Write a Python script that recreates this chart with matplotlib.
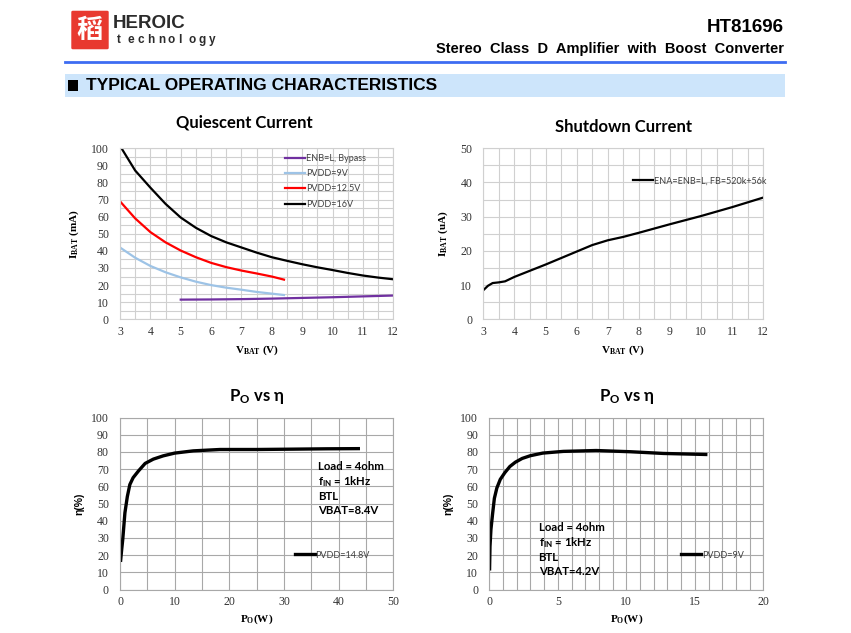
import numpy as np
import matplotlib.pyplot as plt
from matplotlib.patches import Rectangle, FancyBboxPatch
from matplotlib.lines import Line2D

plt.rcParams['mathtext.fontset'] = 'custom'
plt.rcParams['mathtext.rm'] = 'Liberation Serif'
plt.rcParams['mathtext.bf'] = 'Liberation Serif:bold'
plt.rcParams['mathtext.it'] = 'Liberation Serif:italic'
plt.rcParams['mathtext.sf'] = 'Lato:bold'

# quiescent current (mA) vs VBAT (V)
vbat_bypass = [5, 6, 7, 8, 9, 10, 11, 12]
iq_bypass = [11.5, 11.6, 11.8, 12.1, 12.5, 12.9, 13.4, 13.9]
vbat_9v = [3, 3.5, 4, 4.5, 5, 5.5, 6, 6.5, 7, 7.5, 8, 8.4]
iq_9v = [42, 36, 31.2, 27.5, 24.5, 22, 20, 18.5, 17.3, 16, 15, 14.2]
vbat_12v5 = [3, 3.5, 4, 4.5, 5, 5.5, 6, 6.5, 7, 7.5, 8, 8.4]
iq_12v5 = [69, 59, 51, 45, 40.2, 36.3, 33, 30.5, 28.5, 26.8, 25, 23.2]
vbat_16v = [3.05, 3.5, 4, 4.5, 5, 5.5, 6, 6.5, 7, 7.5, 8, 8.5, 9, 9.5, 10, 10.5, 11, 11.5, 12]
iq_16v = [100, 87, 77, 67.5, 59.5, 53.5, 48.7, 45, 42, 39, 36.3, 34.2, 32.2, 30.4, 28.8, 27.1, 25.6, 24.4, 23.4]

# shutdown current (uA) vs VBAT (V)
vbat_sd = [3, 3.15, 3.3, 3.5, 3.7, 4, 4.5, 5, 5.5, 6, 6.5, 7, 7.5, 8, 9, 10, 11, 12]
isd = [8.5, 9.8, 10.6, 10.8, 11.1, 12.4, 14.2, 16, 17.9, 19.8, 21.7, 23.1, 24.1, 25.3, 27.8, 30.2, 32.8, 35.6]

# efficiency (%) vs output power (W)
po_148 = [0.12, 0.3, 0.5, 0.9, 1.34, 1.8, 2.4, 3.4, 4.6, 6.1, 7.9, 10, 13.4, 18.3, 25, 31.7, 37.8, 43.6]
eff_148 = [17, 23, 29, 44.6, 54, 61, 65, 69, 73.3, 75.8, 77.7, 79.3, 80.6, 81.4, 81.4, 81.6, 81.8, 81.9]
po_9 = [0.02, 0.05, 0.12, 0.24, 0.37, 0.55, 0.8, 1.14, 1.5, 1.9, 2.4, 3, 3.9, 5.4, 7.8, 10.3, 12.7, 15.8]
eff_9 = [12, 25, 35, 44, 53, 59, 64, 68, 71.5, 74, 76.2, 77.8, 79.3, 80.3, 80.8, 80.1, 79.1, 78.5]

W, H = 851, 633
fig = plt.figure(figsize=(W / 100, H / 100), dpi=100)


def fx(px):
    return px / W


def fy(py):
    return 1 - py / H


# ---- page header ----
fig.add_artist(FancyBboxPatch((fx(73), fy(48)), fx(34), 36 / H, boxstyle='round,pad=0.002',
                              transform=fig.transFigure, fc='#e8392f', ec='none'))
fig.text(fx(90), fy(30), '稻', color='white', fontsize=19, ha='center', va='center',
         family=['Noto Sans CJK SC', 'DejaVu Sans'], fontweight='bold')
fig.text(fx(113), fy(23), 'HEROIC', family='Liberation Sans', fontweight='bold', fontsize=13.5,
         color='#2b2b2b', va='center')
for i, ch in enumerate('technology'):
    fig.text(fx(117 + i * 10.2), fy(40), ch, family='Liberation Sans', fontweight='bold',
             fontsize=8.5, color='#2b2b2b', va='center')
fig.text(fx(784), fy(28), 'HT81696', family='Liberation Sans', fontweight='bold', fontsize=13.5,
         ha='right', va='center')
fig.text(fx(784), fy(49), 'Stereo  Class  D  Amplifier  with  Boost  Converter',
         family='Liberation Sans', fontweight='bold', fontsize=10.5, ha='right', va='center')
fig.add_artist(Line2D([fx(65), fx(785)], [fy(62), fy(62)], transform=fig.transFigure,
                      color='#3d6cf2', lw=2))
fig.add_artist(Rectangle((fx(65), fy(97)), fx(720), 23 / H, transform=fig.transFigure,
                         fc='#cde5fb', ec='none'))
fig.add_artist(Rectangle((fx(68), fy(91)), fx(10), 11 / H, transform=fig.transFigure,
                         fc='black', ec='none'))
fig.text(fx(86), fy(86), 'TYPICAL OPERATING CHARACTERISTICS', family='Liberation Sans',
         fontweight='bold', fontsize=12.5, va='center')


def style_axes(ax, grid_color):
    for s in ax.spines.values():
        s.set_color(grid_color)
        s.set_linewidth(0.8)
    ax.tick_params(which='both', length=0, labelsize=8.5, labelcolor='#333333')
    ax.tick_params(axis='y', pad=8)
    ax.tick_params(axis='x', pad=5)
    for lab in ax.get_xticklabels() + ax.get_yticklabels():
        lab.set_family('Liberation Serif')
    ax.grid(True, which='both', color=grid_color, lw=0.8)
    ax.set_axisbelow(True)


def style_legend(leg):
    for t in leg.get_texts():
        t.set_color('#404040')


title_font = dict(family=['Lato', 'DejaVu Sans'], fontweight='bold', fontsize=12)
label_font = dict(family='Liberation Serif', fontweight='bold', fontsize=8)
legend_kw = dict(frameon=False, handlelength=2.2, handletextpad=0.1,
                 prop=dict(family='Lato', size=6.5))
note_font = dict(family='Lato', fontweight='bold', fontsize=8.2, linespacing=1.27)

# ---- quiescent current ----
ax1 = fig.add_axes([fx(120), fy(319.3), fx(273.3), 171 / H])
ax1.plot(vbat_bypass, iq_bypass, color='#7030a0', lw=1.6, label='ENB=L, Bypass')
ax1.plot(vbat_9v, iq_9v, color='#9dc3e6', lw=1.6, label='PVDD=9V')
ax1.plot(vbat_12v5, iq_12v5, color='#ff0000', lw=1.6, label='PVDD=12.5V')
ax1.plot(vbat_16v, iq_16v, color='black', lw=1.6, label='PVDD=16V')
ax1.set_xlim(3, 12)
ax1.set_ylim(0, 100)
ax1.set_xticks(np.arange(3, 13, 1))
ax1.set_xticks(np.arange(3, 12.01, 0.5), minor=True)
ax1.set_yticks(np.arange(0, 101, 10))
ax1.set_yticks(np.arange(0, 101, 5), minor=True)
style_axes(ax1, '#d0d0d0')
ax1.set_title('Quiescent Current', x=0.455, pad=15, **title_font)
ax1.set_xlabel(r'V$_\mathbf{BAT}$ (V)', labelpad=4, **label_font)
ax1.set_ylabel(r'I$_\mathbf{BAT}$ (mA)', labelpad=7, **label_font)
style_legend(ax1.legend(loc='upper left', bbox_to_anchor=(0.575, 1.015), labelspacing=0.7,
                        **legend_kw))

# ---- shutdown current ----
ax2 = fig.add_axes([fx(483.3), fy(319.3), fx(280), 171 / H])
ax2.plot(vbat_sd, isd, color='black', lw=1.6, label='ENA=ENB=L, FB=520k+56k')
ax2.set_xlim(3, 12)
ax2.set_ylim(0, 50)
ax2.set_xticks(np.arange(3, 13, 1))
ax2.set_xticks(np.arange(3, 12.01, 0.5), minor=True)
ax2.set_yticks(np.arange(0, 51, 10))
ax2.set_yticks(np.arange(0, 51, 5), minor=True)
style_axes(ax2, '#d0d0d0')
ax2.set_title('Shutdown Current', pad=11.5, **title_font)
ax2.set_xlabel(r'V$_\mathbf{BAT}$ (V)', labelpad=4, **label_font)
ax2.set_ylabel(r'I$_\mathbf{BAT}$ (uA)', labelpad=7, **label_font)
style_legend(ax2.legend(loc='center left', bbox_to_anchor=(0.505, 0.81), **legend_kw))

# ---- efficiency, PVDD=14.8V ----
ax3 = fig.add_axes([fx(120), fy(589.5), fx(273.3), 172 / H])
ax3.plot(po_148, eff_148, color='black', lw=2.4, label='PVDD=14.8V')
ax3.set_xlim(0, 50)
ax3.set_ylim(0, 100)
ax3.set_xticks(np.arange(0, 51, 10))
ax3.set_xticks(np.arange(0, 51, 5), minor=True)
ax3.set_yticks(np.arange(0, 101, 10))
style_axes(ax3, '#a8a8a8')
ax3.set_title(r'P$_\mathsf{O}$ vs η', pad=12, **title_font)
ax3.set_xlabel(r'P$_\mathbf{O}$(W)', labelpad=3, **label_font)
ax3.set_ylabel('η(%)', labelpad=5, family='Liberation Sans', fontweight='bold', fontsize=7.5)
style_legend(ax3.legend(loc='center left', bbox_to_anchor=(0.61, 0.2), **legend_kw))
ax3.text(0.725, 0.75, 'Load = 4ohm\nf$_\\mathsf{IN}$ = 1kHz\nBTL\nVBAT=8.4V',
         transform=ax3.transAxes, va='top', ha='left', **note_font)

# ---- efficiency, PVDD=9V ----
ax4 = fig.add_axes([fx(489.3), fy(589.5), fx(274), 172 / H])
ax4.plot(po_9, eff_9, color='black', lw=2.4, label='PVDD=9V')
ax4.set_xlim(0, 20)
ax4.set_ylim(0, 100)
ax4.set_xticks(np.arange(0, 21, 5))
ax4.set_xticks(np.arange(0, 21, 1), minor=True)
ax4.set_yticks(np.arange(0, 101, 10))
style_axes(ax4, '#a8a8a8')
ax4.set_title(r'P$_\mathsf{O}$ vs η', pad=12, **title_font)
ax4.set_xlabel(r'P$_\mathbf{O}$(W)', labelpad=3, **label_font)
ax4.set_ylabel('η(%)', labelpad=5, family='Liberation Sans', fontweight='bold', fontsize=7.5)
style_legend(ax4.legend(loc='center left', bbox_to_anchor=(0.67, 0.2), **legend_kw))
ax4.text(0.18, 0.395, 'Load = 4ohm\nf$_\\mathsf{IN}$ = 1kHz\nBTL\nVBAT=4.2V',
         transform=ax4.transAxes, va='top', ha='left', **note_font)

fig.savefig('out.png', dpi=100)
